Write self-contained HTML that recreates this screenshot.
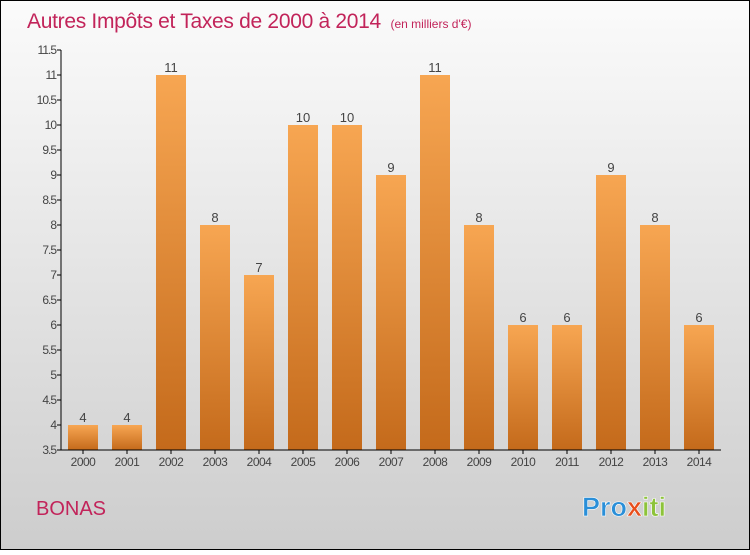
<!DOCTYPE html>
<html><head><meta charset="utf-8"><style>
body{margin:0;width:750px;height:550px;overflow:hidden;font-family:"Liberation Sans",sans-serif}
</style></head><body>
<svg id="c" width="750" height="550" xmlns="http://www.w3.org/2000/svg">
<defs>
<linearGradient id="bg" x1="0" y1="0" x2="0" y2="1"><stop offset="0" stop-color="#fbfbfb"/><stop offset="1" stop-color="#cdcdcd"/></linearGradient>
<linearGradient id="bar" x1="0" y1="0" x2="0" y2="1"><stop offset="0" stop-color="#f7a652"/><stop offset="1" stop-color="#c46a1b"/></linearGradient>
</defs>
<rect x="0.5" y="0.5" width="749" height="549" fill="url(#bg)" stroke="#000"/>
<text x="27" y="28" font-size="21" fill="#c2245a" letter-spacing="-0.3">Autres Impôts et Taxes de 2000 à 2014 <tspan font-size="12" dx="4" letter-spacing="0">(en milliers d'€)</tspan></text>
<text x="36" y="515" font-size="20" fill="#c2245a">BONAS</text>
<text x="582" y="516" font-size="27" font-weight="bold" fill="#2a8fd8" stroke="#fff" stroke-width="0.6">Pro<tspan fill="#e84e1b">x</tspan><tspan fill="#8dc33a">iti</tspan></text>
<g id="plot"></g>
</svg>
<script>
const years=["2000","2001","2002","2003","2004","2005","2006","2007","2008","2009","2010","2011","2012","2013","2014"];
const values=[4,4,11,8,7,10,10,9,11,8,6,6,9,8,6];
const yTicks=[3.5,4,4.5,5,5.5,6,6.5,7,7.5,8,8.5,9,9.5,10,10.5,11,11.5];
const NS="http://www.w3.org/2000/svg";
const g=document.getElementById('plot');
const x0=61,x1=721,yb=450,yt=50,ymin=3.5,ymax=11.5;
const step=(x1-x0)/years.length;
const y=v=>yb-(v-ymin)/(ymax-ymin)*(yb-yt);
function mk(t,a){const e=document.createElementNS(NS,t);for(const k in a)e.setAttribute(k,a[k]);g.appendChild(e);return e;}
yTicks.forEach(v=>{
 const t=mk('line',{x1:x0-4,x2:x0,y1:y(v),y2:y(v),stroke:'#000'});
 
 
 const l=mk('text',{x:x0-5,y:y(v)+4,'font-size':12,'text-anchor':'end',fill:'#444','letter-spacing':'-1'});
 l.textContent=String(v);
 
 
});
years.forEach((yr,i)=>{
 const cx=x0+step*(i+0.5);
 const b=mk('rect',{x:cx-15,y:y(values[i]),width:30,height:yb-y(values[i]),fill:'url(#bar)'});
 
 
 const vl=mk('text',{x:cx,y:y(values[i])-3,'font-size':13,'text-anchor':'middle',fill:'#444'});
 vl.textContent=values[i];
 
 
 const tk=mk('line',{x1:cx,x2:cx,y1:yb,y2:yb+4,stroke:'#000'});
 
 
 const xl=mk('text',{x:cx,y:yb+16,'font-size':12,'text-anchor':'middle',fill:'#444','letter-spacing':'-0.5'});
 xl.textContent=yr;
 
 
});
const ya=mk('line',{x1:x0,x2:x0,y1:yt,y2:yb,stroke:'#000'});


const xa=mk('line',{x1:x0,x2:x1,y1:yb,y2:yb,stroke:'#000'});


</script>
</body></html>
